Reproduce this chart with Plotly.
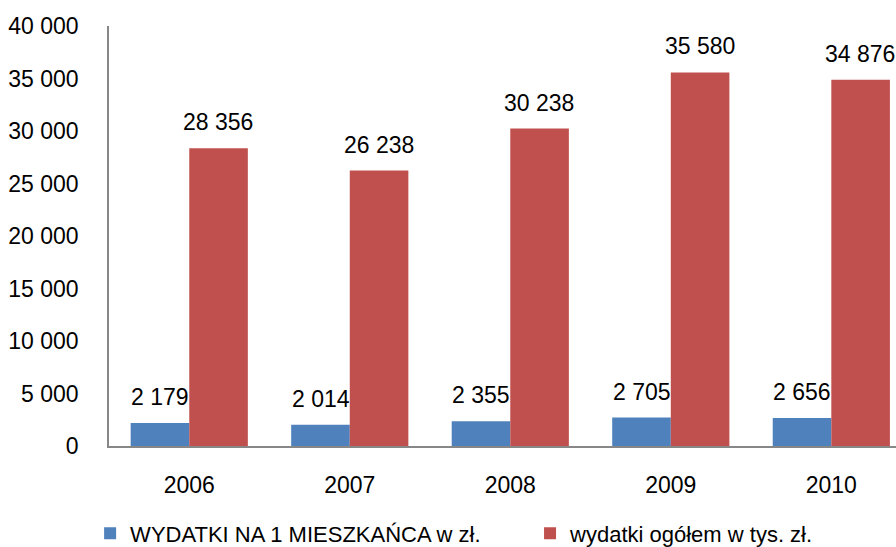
import plotly.graph_objects as go

years = ["2006", "2007", "2008", "2009", "2010"]
per_capita = [2179, 2014, 2355, 2705, 2656]
total = [28356, 26238, 30238, 35580, 34876]
series_names = ["WYDATKI NA 1 MIESZKAŃCA w zł.", "wydatki ogółem w tys. zł."]
y_ticks = [0, 5000, 10000, 15000, 20000, 25000, 30000, 35000, 40000]

BLUE = "#4F81BD"
RED = "#C0504D"
FONT = "Liberation Sans, Arial, sans-serif"

def fmt(v):
    return f"{v:,}".replace(",", " ")

fig = go.Figure()
fig.add_trace(go.Bar(x=years, y=per_capita, name=series_names[0], marker_color=BLUE,
                     marker_line_width=0, legend="legend"))
fig.add_trace(go.Bar(x=years, y=total, name=series_names[1], marker_color=RED,
                     marker_line_width=0, legend="legend2"))

annotations = []
for i, (a, b) in enumerate(zip(per_capita, total)):
    annotations.append(dict(x=i - 0.18, y=a, xref="x", yref="y", text=fmt(a), showarrow=False,
                            yshift=26, font=dict(size=23, color="#000000", family=FONT)))
    annotations.append(dict(x=i + 0.18, y=b, xref="x", yref="y", text=fmt(b), showarrow=False,
                            yshift=26, font=dict(size=23, color="#000000", family=FONT)))

legend_common = dict(orientation="h", y=-0.158, xanchor="left", yanchor="top",
                     font=dict(size=22, family=FONT), itemwidth=30,
                     bgcolor="rgba(0,0,0,0)")

fig.update_layout(
    width=896, height=547,
    margin=dict(l=109, r=0, t=26, b=101, autoexpand=False),
    paper_bgcolor="white", plot_bgcolor="white",
    barmode="group", bargap=0.27, bargroupgap=0,
    separators=", ",
    font=dict(family=FONT, size=23, color="#000000"),
    annotations=annotations,
    showlegend=True,
    legend=dict(x=-0.024, **legend_common),
    legend2=dict(x=0.535, **legend_common),
    xaxis=dict(type="category", range=[-0.5, 4.403], showline=True, linecolor="#878787",
               linewidth=1.5, ticks="", showgrid=False, ticklabelstandoff=18,
               tickfont=dict(size=23, family=FONT)),
    yaxis=dict(range=[0, 40000], tickvals=y_ticks, tickformat=",d", showline=True,
               linecolor="#878787", linewidth=1.5, ticks="", showgrid=False, zeroline=False,
               ticklabelstandoff=24, tickfont=dict(size=23, family=FONT)),
)

fig.write_html("out.html", config={"displayModeBar": False},
               post_script="document.body.style.margin='0px';")
